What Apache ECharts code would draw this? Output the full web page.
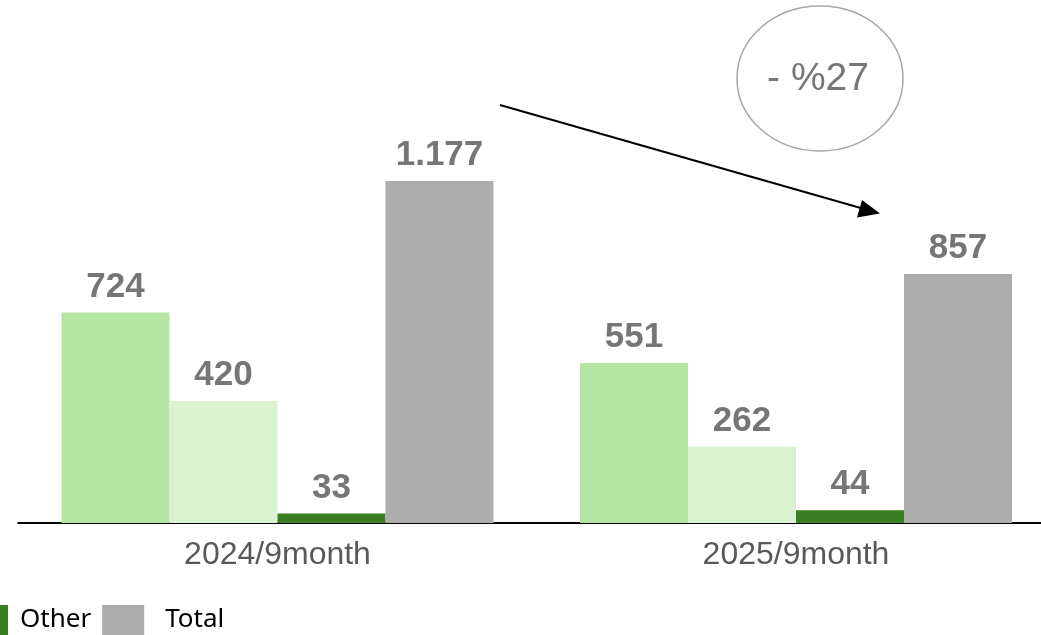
<!DOCTYPE html>
<html>
<head>
<meta charset="utf-8">
<script src="https://cdn.jsdelivr.net/npm/echarts@6/dist/echarts.min.js"></script>
<style>
  html, body { margin: 0; padding: 0; background: #ffffff; overflow: hidden; }
  /* canvas is a little wider than the window so the plot runs past the right edge */
  #chart { width: 1056px; height: 635px; }
</style>
</head>
<body>
<div id="chart"></div>
<script>
// Periods on the category axis
const categories = ['2024/9month', '2025/9month'];

// Series values per period
const domesticValues = [724, 551];
const exportValues = [420, 262];
const otherValues = [33, 44];
const totalValues = [1177, 857];

// Labels shown above the bars (dot as thousands separator)
const fmt = v => v.toLocaleString('de-DE');

const chart = echarts.init(document.getElementById('chart'), null, { renderer: 'canvas' });

const labelStyle = {
  show: true,
  position: 'top',
  distance: 8,
  fontFamily: 'Liberation Sans, Arial, sans-serif',
  fontWeight: 'bold',
  fontSize: 35,
  color: '#767676',
  formatter: p => fmt(p.value)
};

function barSeries(name, data, color) {
  return {
    name: name,
    type: 'bar',
    data: data,
    barWidth: 108,
    barGap: '0%',
    itemStyle: { color: color },
    label: labelStyle,
    emphasis: { disabled: true }
  };
}

const option = {
  animation: false,
  backgroundColor: '#ffffff',
  grid: { left: 18.25, right: 0.75, top: 174.3, bottom: 112, containLabel: false },
  xAxis: {
    type: 'category',
    data: categories,
    axisLine: { show: true, lineStyle: { color: '#000000', width: 2 } },
    axisTick: { show: false },
    axisLabel: {
      margin: 16,
      fontFamily: 'Liberation Sans, Arial, sans-serif',
      fontSize: 32,
      color: '#595959'
    }
  },
  yAxis: {
    type: 'value',
    min: 0,
    max: 1200,
    show: false,
    splitLine: { show: false }
  },
  legend: {
    left: -34,
    top: 605,
    padding: 0,
    itemWidth: 42,
    itemHeight: 30,
    itemGap: 11,
    icon: 'rect',
    textStyle: {
      fontFamily: 'Noto Sans, sans-serif',
      fontSize: 26,
      color: '#000000'
    },
    data: [
      { name: 'Other', textStyle: { padding: [0, 0, 0, 7] } },
      { name: 'Total', textStyle: { padding: [0, 0, 0, 16] } }
    ]
  },
  series: [
    barSeries('Domestic', domesticValues, '#b4e5a2'),
    barSeries('Export', exportValues, '#daf2d0'),
    barSeries('Other', otherValues, '#3b7d23'),
    barSeries('Total', totalValues, '#adadad')
  ],
  graphic: [
    // Change badge
    {
      type: 'ellipse',
      shape: { cx: 820, cy: 78.5, rx: 83, ry: 72.5 },
      style: { fill: 'none', stroke: '#a6a6a6', lineWidth: 1.5 },
      z: 10
    },
    {
      type: 'text',
      x: 818,
      y: 79,
      style: {
        text: '- %27',
        fill: '#767676',
        fontFamily: 'Liberation Sans, Arial, sans-serif',
        fontSize: 39,
        align: 'center',
        verticalAlign: 'middle'
      },
      z: 10
    },
    // Trend arrow between the two totals
    {
      type: 'line',
      shape: { x1: 500, y1: 105, x2: 866, y2: 209.5 },
      style: { stroke: '#000000', lineWidth: 2 },
      z: 10
    },
    {
      type: 'polygon',
      shape: { points: [[880, 213.5], [862, 200], [857, 217.5]] },
      style: { fill: '#000000' },
      z: 10
    }
  ]
};

chart.setOption(option);
</script>
</body>
</html>
